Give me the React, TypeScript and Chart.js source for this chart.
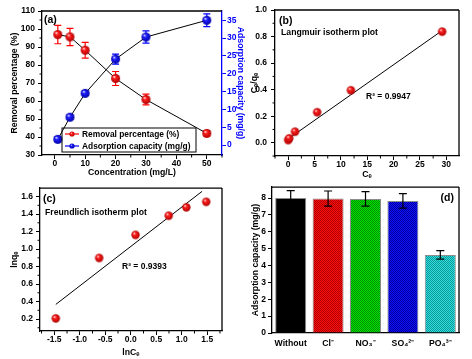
import React, { useEffect, useRef } from "react";
import { Chart, registerables } from "chart.js";

Chart.register(...registerables);

const FAMILY = "'Liberation Sans', Arial, Helvetica, sans-serif";

// ---------- Panel (a): effect of concentration ----------
const concentration = [1, 5, 10, 20, 30, 50];
const removalPct = [96.9, 95.6, 88.2, 72.5, 60.8, 42];
const removalErr = [5.1, 4.8, 4.4, 3.9, 3, 1.5];
const adsorptionCap = [1.6, 7.8, 14.5, 24.1, 30.3, 35];
const adsorptionErr = [0.7, 0.6, 0.6, 1.4, 1.7, 1.8];

// ---------- Panel (b): Langmuir ----------
const langCe = [0.0, 0.2, 1.3, 5.5, 11.9, 29.2];
const langCeQe = [0.02, 0.033, 0.083, 0.23, 0.395, 0.837];
const langFitX = [0.4, 29.2];
const langFitY = [0.04, 0.845];

// ---------- Panel (c): Freundlich ----------
const lnCe = [-1.47, -0.62, 0.094, 0.745, 1.09, 1.48];
const lnQe = [0.207, 0.898, 1.162, 1.381, 1.477, 1.54];
const freundFitX = [-1.47, 1.4];
const freundFitY = [0.367, 1.66];

// ---------- Panel (d): co-existing ions ----------
const ions = ["Without", "Cl⁻", "NO₃⁻", "SO₄²⁻", "PO₄³⁻"];
const ionCapacity = [8.0, 7.97, 7.95, 7.83, 4.63];
const ionErr = [0.44, 0.45, 0.43, 0.43, 0.25];

const TICK = 8.5;
const TITLE = 8.7;

function sphere(color: string, edge: string, r: number): HTMLCanvasElement {
  const c = document.createElement("canvas");
  const s = Math.ceil(2 * r + 2);
  c.width = s;
  c.height = s;
  const ctx = c.getContext("2d")!;
  const cx = s / 2, cy = s / 2;
  const g = ctx.createRadialGradient(cx - r * 0.35, cy - r * 0.4, r * 0.05, cx, cy, r);
  g.addColorStop(0, "#ffffff");
  g.addColorStop(0.3, color);
  g.addColorStop(1, edge);
  ctx.fillStyle = g;
  ctx.beginPath();
  ctx.arc(cx, cy, r, 0, Math.PI * 2);
  ctx.fill();
  return c;
}

function checker(ctx: CanvasRenderingContext2D, base: string, dot: string) {
  const c = document.createElement("canvas");
  c.width = 2;
  c.height = 2;
  const p = c.getContext("2d")!;
  p.fillStyle = base;
  p.fillRect(0, 0, 2, 2);
  p.fillStyle = dot;
  p.fillRect(0, 0, 1, 1);
  p.fillRect(1, 1, 1, 1);
  return ctx.createPattern(c, "repeat");
}

type ErrSpec = { dataset: number; err: number[]; color: string; cap: number; width: number; front?: boolean };
type TextSpec = { text: string; dx: number; dy: number; size: number; color?: string; right?: boolean };
type LegendItem = { label: string; color: string; img: HTMLCanvasElement };
type Deco = {
  errors?: ErrSpec[];
  minor?: { axis: string; step: number; major: number; color?: string }[];
  frameTop?: boolean;
  frameRight?: boolean;
  texts?: TextSpec[];
  legend?: { dx: number; dyBottom: number; w: number; h: number; items: LegendItem[] };
};

function decoPlugin(d: Deco) {
  const drawErrors = (chart: any, front: boolean) => {
    const ctx = chart.ctx as CanvasRenderingContext2D;
    (d.errors || []).filter((e) => !!e.front === front).forEach((e) => {
      const meta = chart.getDatasetMeta(e.dataset);
      const yScale = chart.scales[meta.yAxisID];
      const ds = chart.data.datasets[e.dataset];
      meta.data.forEach((el: any, i: number) => {
        const raw: any = ds.data[i];
        const v = typeof raw === "number" ? raw : raw.y;
        const yTop = yScale.getPixelForValue(v + e.err[i]);
        const yBot = yScale.getPixelForValue(v - e.err[i]);
        const x = el.x;
        ctx.save();
        ctx.strokeStyle = e.color;
        ctx.lineWidth = e.width;
        ctx.beginPath();
        ctx.moveTo(x, yTop);
        ctx.lineTo(x, yBot);
        ctx.moveTo(x - e.cap, yTop);
        ctx.lineTo(x + e.cap, yTop);
        ctx.moveTo(x - e.cap, yBot);
        ctx.lineTo(x + e.cap, yBot);
        ctx.stroke();
        ctx.restore();
      });
    });
  };
  return {
    id: "deco",
    beforeDatasetsDraw(chart: any) {
      drawErrors(chart, false);
    },
    afterDatasetsDraw(chart: any) {
      drawErrors(chart, true);
    },
    afterDraw(chart: any) {
      const ctx = chart.ctx as CanvasRenderingContext2D;
      const ca = chart.chartArea;
      ctx.save();
      ctx.strokeStyle = "#000";
      ctx.lineWidth = 1.3;
      ctx.beginPath();
      if (d.frameTop) {
        ctx.moveTo(ca.left, ca.top);
        ctx.lineTo(ca.right, ca.top);
      }
      if (d.frameRight) {
        ctx.moveTo(ca.right, ca.top);
        ctx.lineTo(ca.right, ca.bottom);
      }
      ctx.stroke();
      // minor ticks
      (d.minor || []).forEach((m) => {
        const s = chart.scales[m.axis];
        ctx.strokeStyle = m.color || "#000";
        ctx.lineWidth = 1;
        ctx.beginPath();
        const start = Math.ceil(s.min / m.step) * m.step;
        for (let v = start; v <= s.max + 1e-9; v += m.step) {
          const r = v / m.major;
          if (Math.abs(r - Math.round(r)) < 1e-6) continue;
          const p = s.getPixelForValue(v);
          if (s.isHorizontal()) {
            ctx.moveTo(p, s.top);
            ctx.lineTo(p, s.top + 2.5);
          } else if (s.position === "left") {
            ctx.moveTo(s.right, p);
            ctx.lineTo(s.right - 2.5, p);
          } else {
            ctx.moveTo(s.left, p);
            ctx.lineTo(s.left + 2.5, p);
          }
        }
        ctx.stroke();
      });
      // texts
      ctx.textBaseline = "middle";
      (d.texts || []).forEach((t) => {
        ctx.font = `bold ${t.size}px ${FAMILY}`;
        ctx.fillStyle = t.color || "#000";
        ctx.textAlign = t.right ? "right" : "left";
        const x = t.right ? ca.right - t.dx : ca.left + t.dx;
        ctx.fillText(t.text, x, ca.top + t.dy);
      });
      // legend
      if (d.legend) {
        const L = d.legend;
        const bx = ca.left + L.dx;
        const by = ca.bottom - L.dyBottom - L.h;
        ctx.strokeStyle = "#000";
        ctx.lineWidth = 1;
        ctx.strokeRect(bx, by, L.w, L.h);
        ctx.font = `bold 8.4px ${FAMILY}`;
        ctx.textAlign = "left";
        const rowH = L.h / L.items.length;
        L.items.forEach((it, i) => {
          const y = by + rowH * (i + 0.5);
          ctx.strokeStyle = it.color;
          ctx.lineWidth = 1.2;
          ctx.beginPath();
          ctx.moveTo(bx + 3, y);
          ctx.lineTo(bx + 17, y);
          ctx.stroke();
          ctx.drawImage(it.img, bx + 10 - it.img.width / 2, y - it.img.height / 2);
          ctx.fillStyle = "#000";
          ctx.fillText(it.label, bx + 20, y + 0.5);
        });
      }
      ctx.restore();
    },
  };
}

const font = (size: number) => ({ family: FAMILY, size, weight: "bold" as const });

function linAxis(o: {
  position: string;
  min: number;
  max: number;
  step: number;
  size: number;
  title: string;
  titlePad: number;
  tickPad: number;
  color?: string;
  decimals?: number;
}) {
  const color = o.color || "#000";
  const horiz = o.position === "bottom";
  return {
    type: "linear",
    position: o.position,
    min: o.min,
    max: o.max,
    grid: { drawOnChartArea: false, color, tickLength: 4, tickWidth: 1 },
    border: { display: true, color, width: 1.3 },
    ticks: {
      stepSize: o.step,
      includeBounds: false,
      color,
      font: font(TICK),
      padding: o.tickPad,
      maxRotation: 0,
      autoSkip: false,
      callback: (v: any) => (o.decimals != null ? Number(v).toFixed(o.decimals) : String(v)),
    },
    title: {
      display: true,
      text: o.title,
      color,
      font: font(TITLE),
      padding: horiz ? { top: 0, bottom: o.titlePad } : { top: o.titlePad, bottom: 0 },
    },
    afterFit: (s: any) => {
      if (horiz) s.height = o.size;
      else s.width = o.size;
    },
  };
}

function configA(): any {
  const redBall = sphere("#ff2020", "#b00000", 4.5);
  const blueBall = sphere("#2020ff", "#0000a8", 4.5);
  const redDot = sphere("#ff2020", "#c00000", 2.6);
  const blueDot = sphere("#2020ff", "#0000b0", 2.6);
  return {
    type: "scatter",
    data: {
      datasets: [
        {
          label: "Removal percentage (%)",
          data: concentration.map((x, i) => ({ x, y: removalPct[i] })),
          yAxisID: "y",
          showLine: true,
          borderColor: "#000",
          borderWidth: 1,
          pointStyle: redBall,
          pointRadius: 4.5,
        },
        {
          label: "Adsorption capacity (mg/g)",
          data: concentration.map((x, i) => ({ x, y: adsorptionCap[i] })),
          yAxisID: "y1",
          showLine: true,
          borderColor: "#000",
          borderWidth: 1,
          pointStyle: blueBall,
          pointRadius: 4.5,
        },
      ],
    },
    options: {
      animation: false,
      responsive: false,
      devicePixelRatio: 1,
      layout: { padding: { top: 11, right: 0, left: 0, bottom: 0 } },
      plugins: { legend: { display: false }, tooltip: { enabled: false } },
      scales: {
        x: linAxis({ position: "bottom", min: -4.2, max: 55, step: 10, size: 25, title: "Concentration (mg/L)", titlePad: 2, tickPad: 0 }),
        y: linAxis({ position: "left", min: 30, max: 110, step: 10, size: 42, title: "Removal percentage (%)", titlePad: 9.5, tickPad: 3 }),
        y1: linAxis({ position: "right", min: -2.8, max: 37.6, step: 5, size: 30, title: "Adsorption capacity (mg/g)", titlePad: 6.5, tickPad: 1, color: "#0000ff" }),
      },
    },
    plugins: [
      decoPlugin({
        errors: [
          { dataset: 0, err: removalErr, color: "#ff0000", cap: 3.5, width: 1.2 },
          { dataset: 1, err: adsorptionErr, color: "#0000ff", cap: 3.5, width: 1.2 },
        ],
        minor: [
          { axis: "x", step: 5, major: 10 },
          { axis: "y", step: 5, major: 10 },
        ],
        frameTop: true,
        texts: [{ text: "(a)", dx: 2, dy: 9.5, size: 10.5 }],
        legend: {
          dx: 20,
          dyBottom: 3,
          w: 134,
          h: 24,
          items: [
            { label: "Removal percentage (%)", color: "#ff0000", img: redDot },
            { label: "Adsorption capacity (mg/g)", color: "#0000ff", img: blueDot },
          ],
        },
      }),
    ],
  };
}

function configB(): any {
  const ball = sphere("#ff2020", "#b00000", 4.2);
  return {
    type: "scatter",
    data: {
      datasets: [
        {
          data: langCe.map((x, i) => ({ x, y: langCeQe[i] })),
          pointStyle: ball,
          pointRadius: 4.2,
        },
        {
          data: langFitX.map((x, i) => ({ x, y: langFitY[i] })),
          showLine: true,
          borderColor: "#000",
          borderWidth: 1,
          pointRadius: 0,
        },
      ],
    },
    options: {
      animation: false,
      responsive: false,
      devicePixelRatio: 1,
      layout: { padding: { top: 10, right: 13, left: 0, bottom: 0 } },
      plugins: { legend: { display: false }, tooltip: { enabled: false } },
      scales: {
        x: linAxis({ position: "bottom", min: -2.5, max: 32.4, step: 5, size: 24, title: "Cₑ", titlePad: 0, tickPad: 0 }),
        y: linAxis({ position: "left", min: -0.1, max: 1.0, step: 0.2, size: 39, title: "Cₑ/qₑ", titlePad: 13, tickPad: 4, decimals: 1 }),
      },
    },
    plugins: [
      decoPlugin({
        minor: [
          { axis: "x", step: 2.5, major: 5 },
          { axis: "y", step: 0.1, major: 0.2 },
        ],
        frameTop: true,
        frameRight: true,
        texts: [
          { text: "(b)", dx: 4, dy: 11, size: 10.5 },
          { text: "Langmuir isotherm plot", dx: 6, dy: 23, size: 8.7 },
          { text: "R² = 0.9947", dx: 91, dy: 87, size: 8.5 },
        ],
      }),
    ],
  };
}

function configC(): any {
  const ball = sphere("#ff2020", "#b00000", 4.2);
  return {
    type: "scatter",
    data: {
      datasets: [
        {
          data: lnCe.map((x, i) => ({ x, y: lnQe[i] })),
          pointStyle: ball,
          pointRadius: 4.2,
        },
        {
          data: freundFitX.map((x, i) => ({ x, y: freundFitY[i] })),
          showLine: true,
          borderColor: "#000",
          borderWidth: 1,
          pointRadius: 0,
        },
      ],
    },
    options: {
      animation: false,
      responsive: false,
      devicePixelRatio: 1,
      layout: { padding: { top: 4, right: 14, left: 0, bottom: 0 } },
      plugins: { legend: { display: false }, tooltip: { enabled: false } },
      scales: {
        x: linAxis({ position: "bottom", min: -1.78, max: 1.79, step: 0.5, size: 28, title: "lnCₑ", titlePad: 1.5, tickPad: 0, decimals: 1 }),
        y: linAxis({ position: "left", min: 0.063, max: 1.697, step: 0.2, size: 40, title: "lnqₑ", titlePad: 9.5, tickPad: 3, decimals: 1 }),
      },
    },
    plugins: [
      decoPlugin({
        minor: [
          { axis: "x", step: 0.25, major: 0.5 },
          { axis: "y", step: 0.1, major: 0.2 },
        ],
        frameTop: true,
        frameRight: true,
        texts: [
          { text: "(c)", dx: 3, dy: 11, size: 10.5 },
          { text: "Freundlich isotherm plot", dx: 5, dy: 25, size: 8.7 },
          { text: "R² = 0.9393", dx: 82, dy: 79, size: 8.5 },
        ],
      }),
    ],
  };
}

function configD(ctx: CanvasRenderingContext2D): any {
  const fills = [
    "#000000",
    checker(ctx, "#ff1010", "#b00000"),
    checker(ctx, "#00e600", "#008a00"),
    checker(ctx, "#1010ff", "#00009a"),
    checker(ctx, "#38dada", "#009a9a"),
  ];
  return {
    type: "bar",
    data: {
      labels: ions,
      datasets: [
        {
          data: ionCapacity,
          backgroundColor: fills,
          borderColor: "#8c8c8c",
          borderWidth: 1,
          categoryPercentage: 1,
          barPercentage: 0.83,
        },
      ],
    },
    options: {
      animation: false,
      responsive: false,
      devicePixelRatio: 1,
      layout: { padding: { top: 4, right: 13, left: 0, bottom: 0 } },
      plugins: { legend: { display: false }, tooltip: { enabled: false } },
      scales: {
        x: {
          type: "category",
          position: "bottom",
          offset: true,
          grid: { display: false, drawTicks: false },
          border: { display: true, color: "#000", width: 1.3 },
          ticks: { color: "#000", font: font(8.7), padding: 5, maxRotation: 0, autoSkip: false },
          afterFit: (s: any) => {
            s.height = 26;
          },
        },
        y: linAxis({ position: "left", min: 0, max: 8.65, step: 1, size: 36, title: "Adsorption capacity (mg/g)", titlePad: 14.5, tickPad: 2 }),
      },
    },
    plugins: [
      decoPlugin({
        errors: [{ dataset: 0, err: ionErr, color: "#000", cap: 4, width: 1.2, front: true }],
        frameTop: true,
        frameRight: true,
        texts: [{ text: "(d)", dx: 5, dy: 11, size: 10.5, right: true }],
      }),
    ],
  };
}

function Panel(props: { left: number; top: number; w: number; h: number; build: (ctx: CanvasRenderingContext2D) => any }) {
  const ref = useRef<HTMLCanvasElement>(null);
  useEffect(() => {
    const c = ref.current!;
    const chart = new Chart(c, props.build(c.getContext("2d")!));
    return () => chart.destroy();
  }, []);
  return (
    <canvas
      ref={ref}
      width={props.w}
      height={props.h}
      style={{ position: "absolute", left: props.left, top: props.top, width: props.w, height: props.h }}
    />
  );
}

export default function App() {
  return (
    <div style={{ position: "absolute", left: 0, top: 0, width: 472, height: 359, background: "#fff", overflow: "hidden" }}>
      <Panel left={0} top={0} w={252} h={180} build={() => configA()} />
      <Panel left={236} top={0} w={236} h={180} build={() => configB()} />
      <Panel left={0} top={180} w={236} h={179} build={() => configC()} />
      <Panel left={236} top={180} w={236} h={179} build={(ctx) => configD(ctx)} />
    </div>
  );
}
